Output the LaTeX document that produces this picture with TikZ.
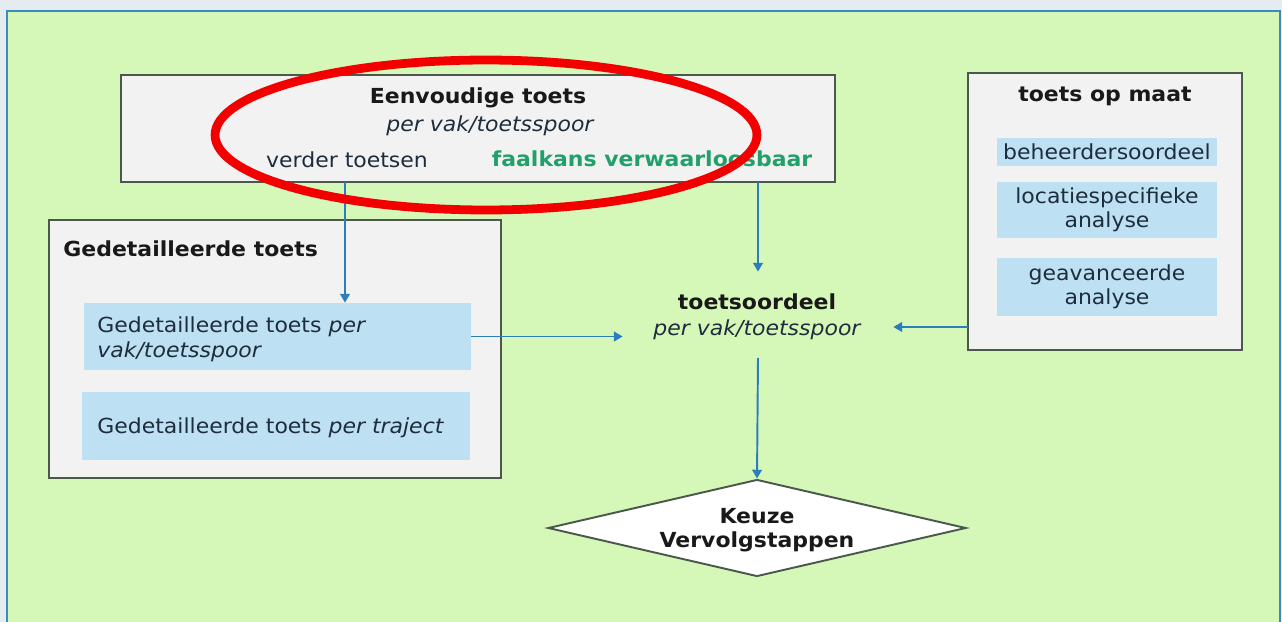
\documentclass[tikz,border=0pt]{standalone}
\usepackage{fontspec}
\setmainfont[FakeStretch=1.06]{DejaVu Sans}
\usetikzlibrary{shapes.geometric,arrows.meta}
\definecolor{pagebg}{HTML}{E4ECF2}
\definecolor{greenbg}{HTML}{D5F8B8}
\definecolor{framecol}{HTML}{3A8CC0}
\definecolor{boxfill}{HTML}{F2F2F2}
\definecolor{boxline}{HTML}{4B584B}
\definecolor{lightblue}{HTML}{BDE0F3}
\definecolor{arrowblue}{HTML}{2B7DBE}
\definecolor{txt}{HTML}{1E2D3C}
\definecolor{greentxt}{HTML}{21A06A}
\definecolor{annot}{HTML}{F20000}
\tikzset{
  bigbox/.style={draw=boxline, line width=1.4pt, fill=boxfill, inner sep=0pt},
  subbox/.style={fill=lightblue, inner sep=0pt, text=txt, align=center},
  lbl/.style={inner sep=0pt, text=txt, align=center},
  arr/.style={draw=arrowblue, line width=1.1pt, -{Triangle[width=5.5pt,length=5pt]}},
}
\newcommand{\fs}{\fontsize{11.8}{14.2}\selectfont}
\begin{document}
\begin{tikzpicture}[x=0.02cm,y=-0.02cm,font=\fs]
\useasboundingbox (0,0) rectangle (1282,622);
\fill[pagebg] (0,0) rectangle (1282,622);
\begin{scope}
\clip (0,0) rectangle (1282,622);
\draw[framecol, line width=1.6pt, fill=greenbg] (7,11) rectangle (1280,650);
\end{scope}

% Eenvoudige toets
\node[bigbox, minimum width=14.28cm, minimum height=2.14cm] (eenv) at (478,128.5) {};
\node[lbl, font=\fs\bfseries, text=black!90] (eenvt) at (478,98) {Eenvoudige toets};
\node[lbl, font=\fs\itshape] (eenvs) at (490,126) {per vak/toetsspoor};
\node[lbl] (verder) at (347,160) {verder toetsen};
\node[lbl, font=\fs\bfseries, text=greentxt] (faal) at (652,159) {faalkans verwaarloosbaar};

% toets op maat
\node[bigbox, minimum width=5.48cm, minimum height=5.54cm] (maat) at (1105,211.5) {};
\node[lbl, font=\fs\bfseries, text=black!90] (maatt) at (1105,96) {toets op maat};
\node[subbox, minimum width=4.4cm, minimum height=0.56cm] (behe) at (1107,152) {beheerdersoordeel};
\node[subbox, minimum width=4.4cm, minimum height=1.12cm, font=\fontsize{11.8}{13.5}\selectfont] (loca) at (1107,210) {locatiespecifieke\\analyse};
\node[subbox, minimum width=4.4cm, minimum height=1.16cm, font=\fontsize{11.8}{13.5}\selectfont] (geav) at (1107,287) {geavanceerde\\analyse};

% Gedetailleerde toets
\node[bigbox, minimum width=9.04cm, minimum height=5.16cm] (gedet) at (275,349) {};
\node[lbl, anchor=west, font=\fs\bfseries, text=black!90] (gedett) at (63,249) {Gedetailleerde toets};
\node[subbox, minimum width=7.74cm, minimum height=1.34cm] (in1) at (277.5,336.5) {};
\node[lbl, anchor=west, align=left] (in1t) at (97,339) {Gedetailleerde toets \textit{per}\\\textit{vak/toetsspoor}};
\node[subbox, minimum width=7.76cm, minimum height=1.36cm] (in2) at (276,426) {};
\node[lbl, anchor=west] (in2t) at (97,428) {Gedetailleerde toets \textit{per traject}};

% toetsoordeel
\node[lbl, minimum width=5.4cm, minimum height=1.72cm] (oordeel) at (758,315) {};
\node[lbl, font=\fs\bfseries, text=black!90] (oordeelt) at (757,302) {toetsoordeel};
\node[lbl, font=\fs\itshape] (oordeels) at (757,330) {per vak/toetsspoor};

% Keuze diamond
\node[draw=boxline, line width=1.1pt, fill=white, shape=diamond, aspect=4.3, inner sep=0pt,
      minimum width=8.36cm, minimum height=1.94cm] (keuze) at (757,528) {};
\node[lbl, font=\fontsize{11.8}{13.6}\selectfont\bfseries, text=black!90] (keuzet) at (757,530) {Keuze\\Vervolgstappen};

% connectors
\coordinate (a1) at (345,182);
\draw[arr] (a1) -- (a1 |- in1.north);
\coordinate (a2) at (758,182);
\draw[arr] (a2) -- (a2 |- oordeel.north);
\draw[arr] (in1.east) -- (in1.east -| oordeel.west);
\coordinate (mr) at (968,327);
\draw[arr] (mr) -- (mr -| oordeel.east);
\coordinate (a3) at (758,358);
\draw[arr] (a3) -- (keuze.north);

% red annotation ellipse
\node[draw=annot, line width=5pt, shape=ellipse, minimum width=10.84cm, minimum height=3cm] (ring) at (486,135) {};
\end{tikzpicture}
\end{document}
